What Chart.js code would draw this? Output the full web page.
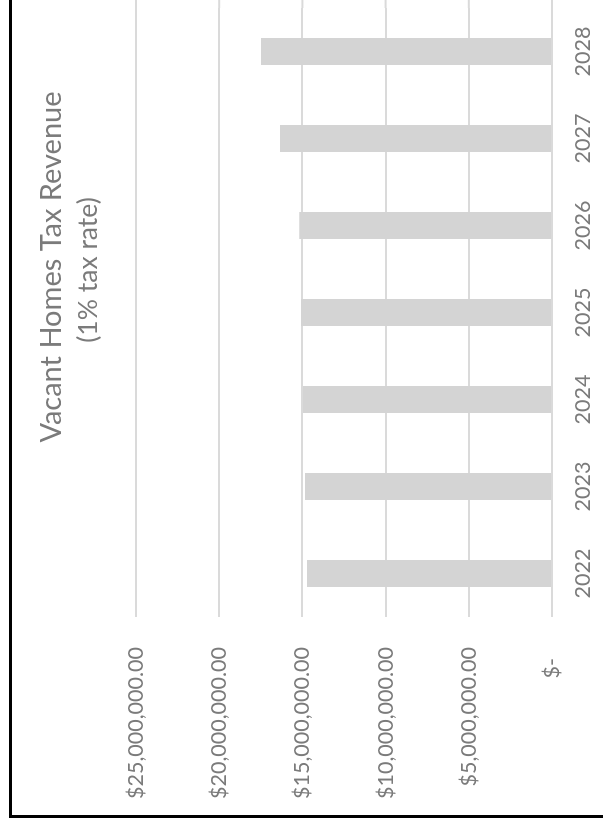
<!DOCTYPE html>
<html>
<head>
<meta charset="utf-8">
<script src="https://cdn.jsdelivr.net/npm/chart.js@4/dist/chart.umd.min.js"></script>
<style>
  html, body { margin: 0; padding: 0; background: #fff; }
  body { width: 603px; height: 830px; overflow: hidden; position: relative; }
  /* the chart is drawn landscape and then turned a quarter to the left */
  #wrap {
    position: absolute; left: 0; top: 0;
    width: 830px; height: 603px;
    transform-origin: 0 0;
    transform: translate(0, 830px) rotate(-90deg);
    background: #fff;
  }
  #frame {
    position: absolute; left: 12px; top: 9px; right: -20px; bottom: -20px;
    border-left: 3px solid #000; border-top: 3px solid #000;
    pointer-events: none;
  }
  canvas { position: absolute; left: 0; top: 0; }
</style>
</head>
<body>
<div id="wrap">
  <canvas id="myChart" width="830" height="603"></canvas>
  <div id="frame"></div>
</div>
<script>
// data
const years = ['2022', '2023', '2024', '2025', '2026', '2027', '2028'];
const revenue = [14720000, 14840000, 14960000, 15080000, 15190000, 16350000, 17490000];
const titleText = 'Vacant Homes Tax Revenue';
const subtitleText = '(1% tax rate)';

const grey = '#7b7b7b';
const gridGrey = '#dadada';
const fontFamily = 'Lato, "Open Sans", sans-serif';

function money(v) {
  if (v === 0) return '$-  ';
  return '$' + v.toLocaleString('en-US', {minimumFractionDigits: 2, maximumFractionDigits: 2});
}

// title + subtitle centred over the same point like in the sheet,
// and the value gridlines carried on to the cropped edge
const sheetPlugin = {
  id: 'sheet',
  beforeDatasetsDraw(chart) {
    const ctx = chart.ctx;
    const y = chart.scales.y;
    ctx.save();
    ctx.strokeStyle = gridGrey;
    ctx.lineWidth = 2;
    y.ticks.forEach((t) => {
      const p = y.getPixelForValue(t.value);
      ctx.beginPath();
      ctx.moveTo(chart.chartArea.right, p);
      ctx.lineTo(chart.width, p);
      ctx.stroke();
    });
    ctx.restore();
  },
  afterDraw(chart) {
    const ctx = chart.ctx;
    ctx.save();
    ctx.fillStyle = grey;
    ctx.textAlign = 'center';
    ctx.textBaseline = 'middle';
    ctx.font = '29px ' + fontFamily;
    ctx.fillText(titleText, 563, 52);
    ctx.font = '26.5px ' + fontFamily;
    ctx.fillText(subtitleText, 560, 88);
    ctx.restore();
  }
};

const config = {
  type: 'bar',
  data: {
    labels: years,
    datasets: [{
      data: revenue,
      backgroundColor: '#d4d4d4',
      borderWidth: 0,
      categoryPercentage: 1,
      barPercentage: 0.31
    }]
  },
  options: {
    responsive: false,
    animation: false,
    layout: {padding: {top: 136, right: 8, left: 0, bottom: 0}},
    plugins: {legend: {display: false}, tooltip: {enabled: false}, title: {display: false}},
    scales: {
      x: {
        grid: {display: false},
        border: {display: false},
        ticks: {color: grey, font: {family: fontFamily, size: 21.5}, padding: 10, maxRotation: 0, autoSkip: false},
        afterFit: (s) => { s.height = 51; }
      },
      y: {
        min: 0,
        max: 25000000,
        grid: {color: gridGrey, lineWidth: 2, drawTicks: false},
        border: {display: false},
        ticks: {stepSize: 5000000, color: grey, font: {family: fontFamily, size: 21.5}, padding: 30, callback: (v) => money(v)},
        afterFit: (s) => { s.width = 213; }
      }
    }
  },
  plugins: [sheetPlugin]
};

new Chart(document.getElementById('myChart'), config);
</script>
</body>
</html>
